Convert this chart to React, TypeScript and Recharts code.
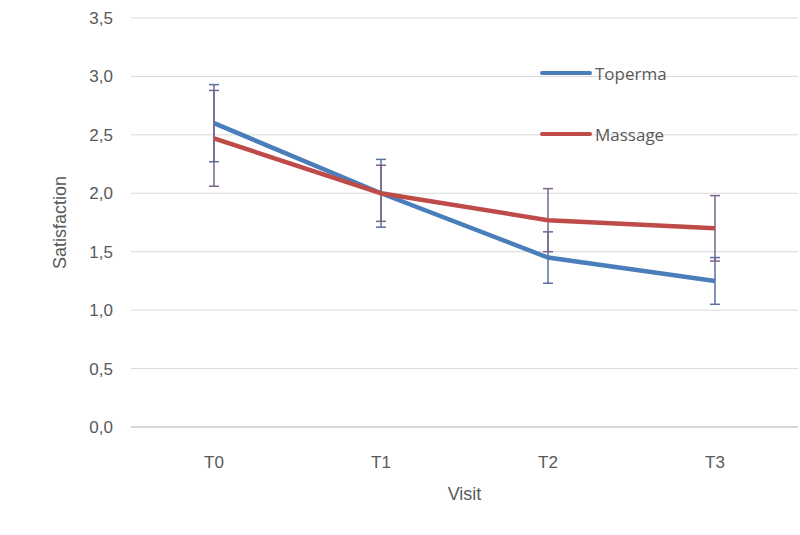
import { LineChart, Line, XAxis, YAxis, CartesianGrid, ErrorBar, Legend } from 'recharts';

const visits = ['T0', 'T1', 'T2', 'T3'];
const toperma = [2.6, 2.0, 1.45, 1.25];
const topermaErr = [0.33, 0.29, 0.22, 0.2];
const massage = [2.47, 2.0, 1.77, 1.7];
const massageErr = [0.41, 0.24, 0.27, 0.28];
const yTicks = [0, 0.5, 1, 1.5, 2, 2.5, 3, 3.5];

const series = [
  { key: 'toperma', name: 'Toperma', color: '#4a7ebb', err: 'topermaErr', errColor: '#5d6fa3' },
  { key: 'massage', name: 'Massage', color: '#be4b48', err: 'massageErr', errColor: '#7a6488' },
];

const data = visits.map((v, i) => ({
  visit: v,
  toperma: toperma[i],
  topermaErr: topermaErr[i],
  massage: massage[i],
  massageErr: massageErr[i],
}));

const font = '"Liberation Sans", Arial, sans-serif';

function renderLegend() {
  return (
    <div style={{ fontFamily: '"Open Sans", sans-serif', fontSize: 17, color: '#595959' }}>
      {series.map((s, i) => (
        <div key={s.key} style={{ display: 'flex', alignItems: 'center', height: 30, marginBottom: i === 0 ? 31 : 0 }}>
          <div style={{ width: 52, height: 4, borderRadius: 2, background: s.color, marginRight: 3 }} />
          <span>{s.name}</span>
        </div>
      ))}
    </div>
  );
}

export default function App() {
  return (
    <div style={{ position: 'absolute', left: 0, top: 0, width: 800, height: 535, background: '#fff' }}>
      <LineChart width={800} height={535} data={data} margin={{ top: 18, right: 2, bottom: 0, left: 0 }}>
        <CartesianGrid vertical={false} stroke="#d9d9d9" />
        <XAxis
          dataKey="visit"
          height={108}
          padding={{ left: 83, right: 83 }}
          tickLine={false}
          axisLine={{ stroke: '#bfbfbf' }}
          tickMargin={23}
          tick={{ fill: '#595959', fontSize: 17, fontFamily: font }}
          label={{ value: 'Visit', position: 'insideBottom', offset: 35, fill: '#595959', fontSize: 18, fontFamily: font }}
        />
        <YAxis
          width={131}
          domain={[0, 3.5]}
          ticks={yTicks}
          interval={0}
          tickFormatter={(v: number) => v.toFixed(1).replace('.', ',')}
          tickLine={false}
          axisLine={false}
          tickMargin={12}
          tick={{ fill: '#595959', fontSize: 17, fontFamily: font }}
          label={{
            value: 'Satisfaction',
            angle: -90,
            position: 'insideLeft',
            offset: 60,
            fill: '#595959',
            fontSize: 18,
            fontFamily: font,
            style: { textAnchor: 'middle' },
          }}
        />
        <Legend
          layout="vertical"
          verticalAlign="middle"
          align="center"
          content={renderLegend}
          wrapperStyle={{ position: 'absolute', left: 540, top: 58, width: 200 }}
        />
        {series.map((s) => (
          <Line
            key={s.key}
            type="linear"
            dataKey={s.key}
            name={s.name}
            stroke={s.color}
            strokeWidth={4.5}
            dot={false}
            activeDot={false}
            isAnimationActive={false}
          >
            <ErrorBar dataKey={s.err} width={5} stroke={s.errColor} strokeWidth={1.5} direction="y" />
          </Line>
        ))}
      </LineChart>
    </div>
  );
}
